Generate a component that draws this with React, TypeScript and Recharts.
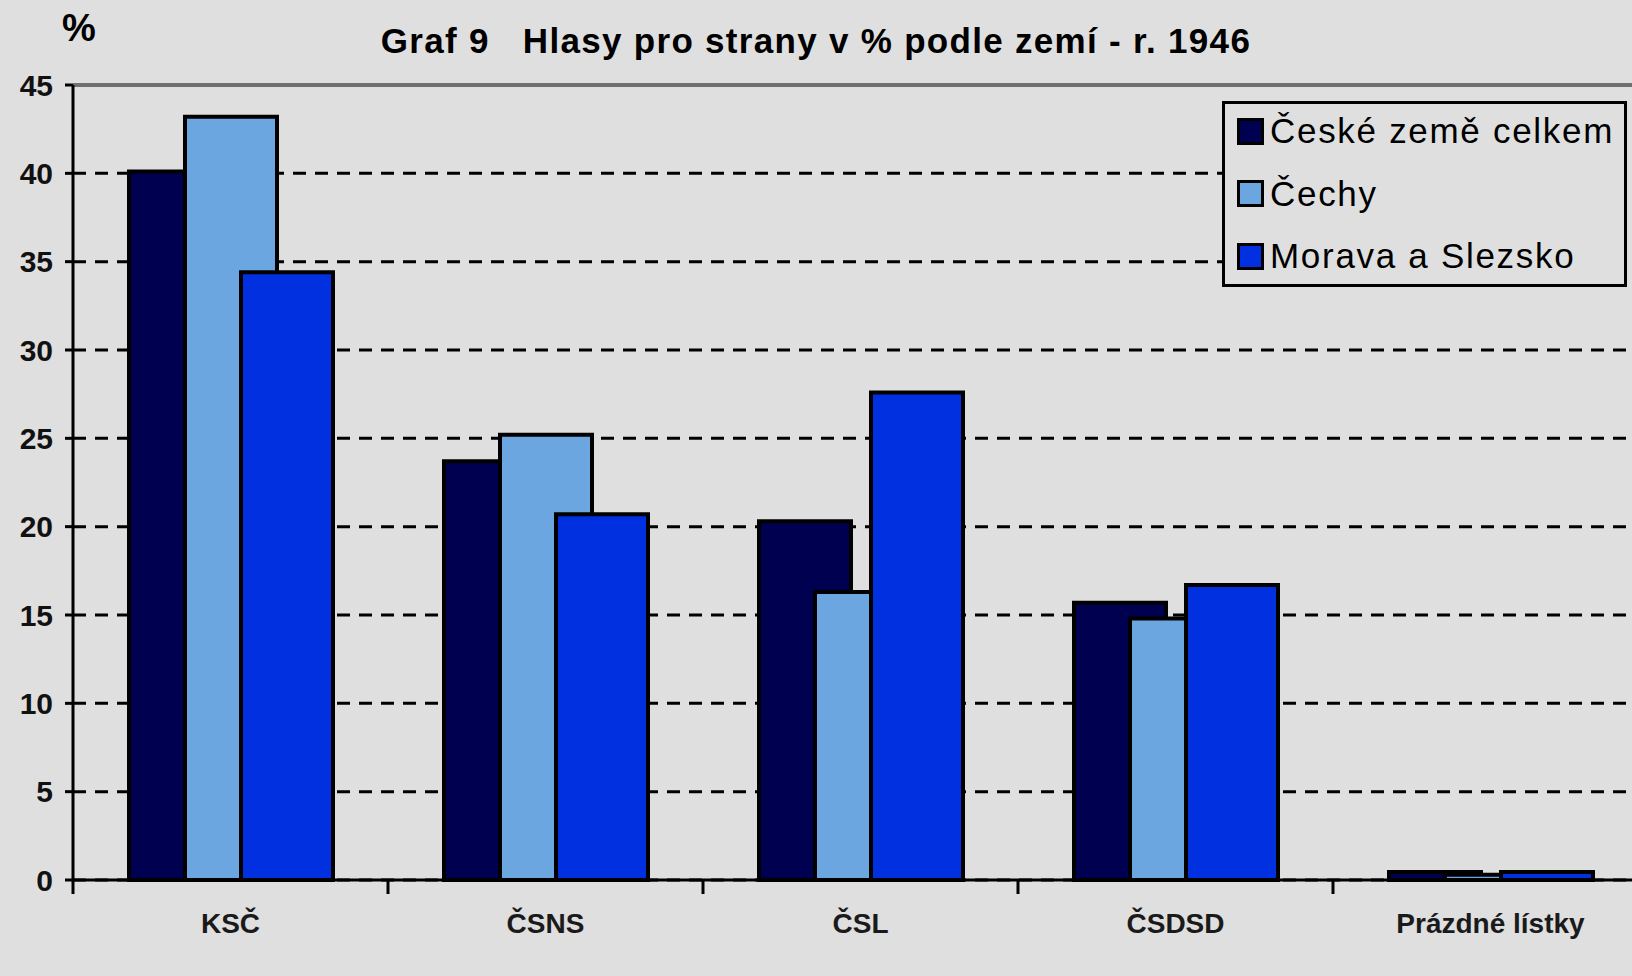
import { Bar, BarChart, CartesianGrid, ReferenceLine, XAxis, YAxis } from "recharts"

const categories = ["KSČ", "ČSNS", "ČSL", "ČSDSD", "Prázdné lístky"]
const ceskeZeme = [40.1, 23.7, 20.3, 15.7, 0.45]
const cechy = [43.2, 25.2, 16.3, 14.8, 0.3]
const moravaSlezsko = [34.4, 20.7, 27.6, 16.7, 0.45]
const yTicks = [0, 5, 10, 15, 20, 25, 30, 35, 40, 45]

const series = [
  { key: "ceske", name: "České země celkem", color: "#000050", values: ceskeZeme },
  { key: "cechy", name: "Čechy", color: "#6ca6e0", values: cechy },
  { key: "morava", name: "Morava a Slezsko", color: "#0030e0", values: moravaSlezsko },
]

const data = categories.map((name, i) => {
  const row: Record<string, string | number> = { name }
  series.forEach((s) => {
    row[s.key] = s.values[i]
  })
  return row
})

const font = "'Liberation Sans', Arial, sans-serif"
const bg = "#dfdfdf"

function CategoryTick(props: any) {
  const { x, y, payload } = props
  const half = payload?.offset ?? 0
  return (
    <g>
      <line x1={x - half} x2={x - half} y1={y} y2={y + 14} stroke="#000" strokeWidth={3} />
      <text x={x} y={y + 53} textAnchor="middle" fontSize={28} fontWeight="bold" fontFamily={font} fill="#1a1a1a">
        {payload.value}
      </text>
    </g>
  )
}

export default function App() {
  return (
    <div
      style={{
        position: "fixed",
        left: 0,
        top: 0,
        width: 1632,
        height: 976,
        overflow: "hidden",
        background: bg,
        fontFamily: font,
      }}
    >
      <div style={{ position: "absolute", left: 62, top: 9, fontSize: 38, lineHeight: 1, fontWeight: "bold" }}>%</div>
      <div
        style={{
          position: "absolute",
          left: 0,
          width: 1632,
          top: 23,
          textAlign: "center",
          fontSize: 35,
          lineHeight: 1,
          fontWeight: "bold",
          letterSpacing: 1.3,
          whiteSpace: "pre",
        }}
      >
        {"Graf 9   Hlasy pro strany v % podle zemí - r. 1946"}
      </div>

      <BarChart
        width={1660}
        height={976}
        data={data}
        margin={{ top: 85, right: 12, bottom: 36, left: 0 }}
        barSize={92}
        barGap={-36}
      >
        <CartesianGrid vertical={false} stroke="#000" strokeDasharray="13 9" strokeWidth={3} />
        <XAxis
          dataKey="name"
          height={60}
          axisLine={{ stroke: "#000", strokeWidth: 3 }}
          tickLine={false}
          tickSize={0}
          tickMargin={0}
          interval={0}
          tick={<CategoryTick />}
        />
        <YAxis
          width={73}
          domain={[0, 45]}
          ticks={yTicks}
          interval={0}
          axisLine={{ stroke: "#000", strokeWidth: 3 }}
          tickLine={{ stroke: "#000", strokeWidth: 3 }}
          tickSize={8}
          tickMargin={12}
          tick={{ fontSize: 30, fontWeight: "bold", fill: "#111", fontFamily: font }}
        />
        <ReferenceLine y={45} stroke="#707070" strokeWidth={4} />
        {series.map((s) => (
          <Bar
            key={s.key}
            dataKey={s.key}
            name={s.name}
            fill={s.color}
            stroke="#000"
            strokeWidth={4}
            isAnimationActive={false}
          />
        ))}
      </BarChart>

      <div
        style={{
          position: "absolute",
          left: 1222,
          top: 101,
          width: 405,
          height: 186,
          boxSizing: "border-box",
          border: "3px solid #000",
          background: bg,
        }}
      >
        {series.map((s, i) => (
          <div
            key={s.key}
            style={{
              position: "absolute",
              left: 12,
              top: -3 + i * 62.5,
              height: 60,
              display: "flex",
              alignItems: "center",
              whiteSpace: "nowrap",
            }}
          >
            <span
              style={{
                display: "inline-block",
                width: 27,
                height: 27,
                boxSizing: "border-box",
                border: "3px solid #000",
                background: s.color,
                marginRight: 6,
              }}
            />
            <span style={{ fontSize: 35, letterSpacing: 1.7, color: "#000" }}>{s.name}</span>
          </div>
        ))}
      </div>
    </div>
  )
}
